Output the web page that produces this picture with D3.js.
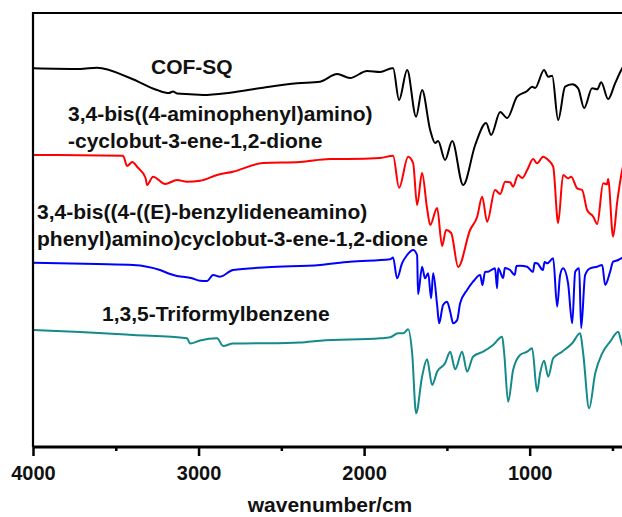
<!DOCTYPE html>
<html>
<head>
<meta charset="utf-8">
<script src="https://cdn.jsdelivr.net/npm/d3@7/dist/d3.min.js"></script>
<style>
  html, body { margin: 0; padding: 0; background: #ffffff; }
  svg { display: block; }
  text { font-family: "Liberation Sans", Arial, sans-serif; font-weight: bold; fill: #111; }
</style>
</head>
<body>
<svg id="chart" width="622" height="517"></svg>
<script>
// ---- Data (wavenumber in cm^-1, offset transmittance in a.u.) ----
const cofSQ = [
  [4000,378.7],[3716,378],[3613,379.3],[3414,369],[3251,357],[3180,354],[3154,355.5],[3130,353.5],
  [3051,352.7],[2973,352],[2810,354.3],[2610,359.3],[2405,363.7],[2266,365.3],[2163,373],[2085,369],
  [1982,376],[1903,375],[1831,378.7],[1825,378.7],[1789,347],[1740,377],[1686,330.3],[1650,357],
  [1601,317],[1571,304],[1553,306],[1511,287],[1468,306],[1402,262],[1329,302],[1263,324],
  [1233,312],[1178,335],[1136,329],[1076,350.3],[1015,356],[985,360.3],[967,359],[913,377],
  [888,370.3],[864,371.3],[828,327],[786,360.3],[743,362.7],[707,358.7],[671,339],[623,358.7],
  [592,357.7],[568,364.7],[526,348],[484,363.7],[441,378.7],[400,387]
];
const aminoSQ = [
  [4000,292],[3456,291.3],[3432,281],[3400,285],[3370,280],[3320,269],[3311,262],[3275,270.3],
  [3202,263],[3130,267],[3070,265.3],[2991,266.3],[2888,272],[2792,275.3],[2610,284],[2387,285],
  [2206,288],[2097,288],[1903,289],[1825,291.3],[1789,259.3],[1734,290.3],[1704,284],[1680,242],
  [1650,274],[1620,239],[1601,222],[1559,239],[1529,201],[1505,217],[1474,214],[1432,180],
  [1360,217],[1317,230.3],[1287,250.3],[1257,225.3],[1209,257],[1178,253],[1148,265.3],[1118,264.7],
  [1100,260.3],[1070,272],[1045,269],[1015,277],[979,288],[955,283.7],[919,290.3],[888,287],
  [858,280.3],[828,224],[798,272],[768,268.7],[749,270.3],[713,258.7],[683,257],[653,237],
  [616,230.3],[592,223],[556,263.7],[532,262.7],[526,268],[496,210.3],[471,245.3],[441,277],[400,297]
];
const benzSQ = [
  [4000,184.3],[3613,183],[3396,182],[3233,177],[3172,173],[3130,171],[3094,170.3],[3039,168.7],
  [2991,166.3],[2949,166],[2912,172],[2870,170.3],[2792,177],[2586,179.7],[2266,182],[2085,185.3],
  [1843,187.7],[1825,189.5],[1801,168.7],[1771,183.7],[1740,192],[1704,197],[1680,192],[1674,152.7],
  [1650,180.3],[1632,168.7],[1613,173.7],[1595,148.7],[1583,173.7],[1559,142],[1547,123.7],[1523,142],
  [1499,145.3],[1480,135.3],[1462,123.7],[1438,127],[1420,143.7],[1378,157],[1342,165.3],[1299,172],
  [1285,162],[1270,175],[1251,175.3],[1209,178.7],[1197,158.7],[1190,178.7],[1160,169],[1150,179],
  [1118,177],[1090,172],[1080,181],[1058,181.3],[1015,180.3],[980,175],[970,184],[955,183.7],
  [920,177],[910,185],[894,183.7],[858,188.7],[834,140.3],[816,172],[798,178.7],[768,163.7],
  [743,123.7],[725,175.3],[701,178.7],[689,118.7],[665,172],[635,178.7],[592,180.3],[562,182],
  [544,162],[514,175.3],[496,185.3],[465,187],[447,188.7],[400,191]
];
const triformyl = [
  [4000,117],[3716,115],[3396,112],[3070,108.7],[3051,103.5],[2991,106.5],[2888,108.7],[2852,101],
  [2792,103.5],[2586,103.7],[2387,104.5],[2266,106.3],[1903,108.7],[1843,109.7],[1795,113.7],[1764,113.7],
  [1734,117.7],[1710,94],[1686,33.7],[1650,70.3],[1620,87.7],[1589,62],[1559,75.3],[1511,83.7],
  [1480,95.3],[1450,77.7],[1408,95.3],[1378,75.3],[1342,90.3],[1281,95.3],[1221,102],[1166,110.3],
  [1154,94],[1130,45.3],[1100,77],[1058,92],[1015,95.3],[985,98.7],[955,55.3],[937,73.7],
  [913,86.3],[888,70.3],[858,88.7],[804,95.3],[743,103.7],[695,113.7],[677,94],[641,38.7],
  [604,73.7],[562,93.7],[514,105.3],[465,115.3],[447,105.3],[400,87]
];
const seriesNames = ["COF-SQ", "3,4-bis((4-aminophenyl)amino)-cyclobut-3-ene-1,2-dione",
  "3,4-bis((4-((E)-benzylideneamino)phenyl)amino)cyclobut-3-ene-1,2-dione", "1,3,5-Triformylbenzene"];
const seriesColors = ["#000000", "#ff0000", "#0000ff", "#148a8a"];
const labelLines = [
  ["COF-SQ"],
  ["3,4-bis((4-aminophenyl)amino)", "-cyclobut-3-ene-1,2-dione"],
  ["3,4-bis((4-((E)-benzylideneamino)", "phenyl)amino)cyclobut-3-ene-1,2-dione"],
  ["1,3,5-Triformylbenzene"]
];
const majorTicks = [4000, 3000, 2000, 1000];
const minorTicks = [3500, 2500, 1500, 500];
const xTitle = "wavenumber/cm";

// ---- Layout ----
const mLeft = 33, mTop = 13, mBottom = 447, mRight = 629;
const svg = d3.select("#chart");
const x = d3.scaleLinear().domain([4000, 400]).range([mLeft, mRight]);
const y = d3.scaleLinear().domain([0, 434]).range([mBottom, mTop]);

svg.append("defs").append("clipPath").attr("id", "plotclip")
  .append("rect").attr("x", mLeft).attr("y", mTop).attr("width", mRight - mLeft).attr("height", mBottom - mTop);

const line = d3.line().x(d => x(d[0])).y(d => y(d[1])).curve(d3.curveMonotoneX);
const allSeries = [cofSQ, aminoSQ, benzSQ, triformyl];
const g = svg.append("g").attr("clip-path", "url(#plotclip)");
allSeries.forEach((s, i) => {
  g.append("path").datum(s).attr("d", line)
    .attr("fill", "none").attr("stroke", seriesColors[i])
    .attr("stroke-width", 2).attr("stroke-linejoin", "round");
});

// Frame
svg.append("path")
  .attr("d", `M${mLeft},${mBottom}V${mTop}H${mRight}V${mBottom}`)
  .attr("fill", "none").attr("stroke", "#000").attr("stroke-width", 2.2);

// X axis
const axis = d3.axisBottom(x).tickValues(majorTicks).tickSize(9).tickPadding(10).tickFormat(d3.format("d"));
const ax = svg.append("g").attr("transform", `translate(0,${mBottom})`).call(axis);
ax.select(".domain").attr("stroke-width", 3).attr("d", `M${mLeft},0H${mRight}`);
ax.selectAll(".tick line").attr("stroke-width", 2.5);
ax.selectAll(".tick text").attr("font-size", 20).attr("font-family", "Liberation Sans, Arial, sans-serif")
  .attr("font-weight", "bold").attr("fill", "#111");
const minor = d3.axisBottom(x).tickValues(minorTicks).tickSize(4).tickFormat("");
const mx = svg.append("g").attr("transform", `translate(0,${mBottom})`).call(minor);
mx.select(".domain").remove();
mx.selectAll(".tick line").attr("stroke-width", 2.5);

// X title
svg.append("text").attr("x", 330).attr("y", 512).attr("text-anchor", "middle")
  .attr("font-size", 21).text(xTitle);

// Series labels
const labelPos = [[151, 74], [68, 121], [37, 219], [102, 321]];
const lineGap = 26.5;
labelLines.forEach((lines, i) => {
  lines.forEach((t, j) => {
    svg.append("text").attr("x", labelPos[i][0]).attr("y", labelPos[i][1] + j * lineGap)
      .attr("font-size", 21).text(t);
  });
});
</script>
</body>
</html>
